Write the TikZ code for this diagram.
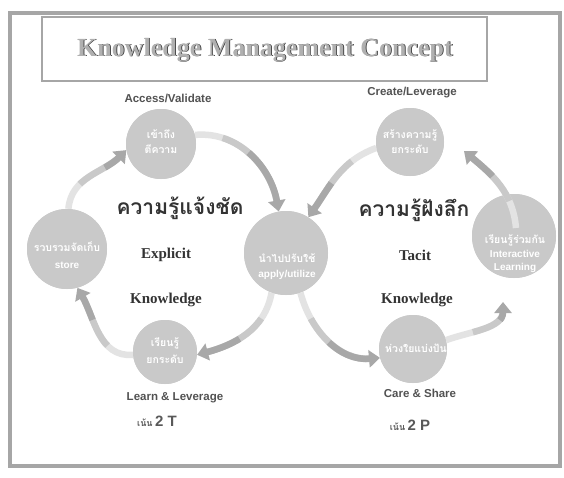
\documentclass[tikz,border=0pt]{standalone}
\usepackage{fontspec}
\setmainfont{Liberation Serif}
\newfontfamily\sansf{Liberation Sans}
\newfontfamily\thaif[Script=Thai]{Loma}
\usetikzlibrary{arrows.meta}
\tikzset{
  kmcirc/.style={circle, fill=gray!42, draw=none, minimum size=#1, inner sep=0pt},
  ctext/.style={text=white, align=center, inner sep=0pt, font=\thaif\bfseries\fontsize{10.5}{13}\selectfont},
  csub/.style={text=white, font=\sansf\bfseries\fontsize{10}{12}\selectfont},
  steplabel/.style={text=black!68, inner sep=0pt, font=\sansf\bfseries\fontsize{11.5}{13}\selectfont},
  biglabel/.style={text=black!80, inner sep=0pt, font=\bfseries\fontsize{15}{17}\selectfont},
  thailabel/.style={text=black!80, inner sep=0pt, font=\thaif\bfseries\fontsize{21}{24}\selectfont},
  emph2/.style={text=black!65, inner sep=0pt},
  arrlight/.style={line width=6.5pt, draw=gray!22, shorten >=9pt},
  arrmid/.style={line width=6.5pt, draw=gray!42, shorten >=9pt, dash pattern=on 0pt off 28pt on 2000pt off 1pt},
  arrdark/.style={line width=6.5pt, draw=gray!68, dash pattern=on 0pt off 58pt on 2000pt off 1pt, -{Triangle[width=17pt,length=11pt]}},
}
\newcommand\karrow[1]{%
  \draw[arrlight] #1;
  \draw[arrmid] #1;
  \draw[arrdark] #1;}
\begin{document}
\begin{tikzpicture}[x=1pt,y=1pt]
\useasboundingbox (0,0) rectangle (564,-477);
\fill[white] (0,0) rectangle (564,-477);
% frames
\draw[line width=4pt, draw=gray!70] (10,-13) rectangle (560,-466);
\draw[line width=1.5pt, draw=gray!70] (42,-17) rectangle (487,-81);
\node[text=black!85, font=\bfseries\fontsize{26}{30}\selectfont] (titleshadow) at (265.7,-50.7) {Knowledge Management Concept};
\node[text=gray!62, font=\bfseries\fontsize{26}{30}\selectfont] (title) at (265,-50) {Knowledge Management Concept};

% circle positions
\coordinate (pA) at (161,-144);
\coordinate (pS) at (67,-249);
\coordinate (pP) at (286,-253);
\coordinate (pL) at (165,-352);
\coordinate (pC) at (410,-142);
\coordinate (pI) at (514,-236);
\coordinate (pH) at (413,-349);

\node[kmcirc=70pt] (access) at (pA) {};
\node[kmcirc=80pt] (store) at (pS) {};
\node[kmcirc=84pt] (apply) at (pP) {};
\node[kmcirc=64pt] (learn) at (pL) {};
\node[kmcirc=68pt] (create) at (pC) {};
\node[kmcirc=84pt] (inter) at (pI) {};
\node[kmcirc=68pt] (care) at (pH) {};

\coordinate (ci) at (503,-302);
\coordinate (cc) at (464,-151);
\coordinate (it) at (516,-228);

% arrows
\karrow{(store.88) to[out=85,in=225] (access.190)}
\karrow{(access.15) to[out=5,in=100] (apply.100)}
\karrow{(apply.250) to[out=260,in=15] (learn.-5)}
\karrow{(learn.185) to[out=185,in=-60] (store.-75)}
\karrow{(create.190) to[out=200,in=55] (apply.58)}
\karrow{(apply.-70) to[out=-75,in=185] (care.195)}
\karrow{(care.15) to[out=20,in=-90] (ci)}

% circles again, over the arrow tails
\node[kmcirc=70pt] (access2) at (pA) {};
\node[kmcirc=80pt] (store2) at (pS) {};
\node[kmcirc=84pt] (apply2) at (pP) {};
\node[kmcirc=64pt] (learn2) at (pL) {};
\node[kmcirc=68pt] (create2) at (pC) {};
\node[kmcirc=84pt] (inter2) at (pI) {};
\node[kmcirc=68pt] (care2) at (pH) {};

\karrow{(it) to[out=95,in=-40] (cc)}

% circle texts
\node[ctext] (accesst) at (161,-142) {เข้าถึง\\[2pt]ตีความ};
\node[ctext] (storet) at (67,-247) {รวบรวมจัดเก็บ};
\node[csub] (stores) at (67,-265) {store};
\node[ctext] (applyt) at (287,-258) {นำไปปรับใช้};
\node[csub] (applys) at (287,-275) {apply/utilize};
\node[ctext] (learnt) at (165,-351) {เรียนรู้\\[4pt]ยกระดับ};
\node[ctext] (createt) at (410,-142) {สร้างความรู้\\[2pt]ยกระดับ};
\node[ctext] (intert) at (515,-240) {เรียนรู้ร่วมกัน};
\node[csub, align=center, font=\sansf\bfseries\fontsize{10}{13}\selectfont] (inters) at (515,-261) {Interactive\\Learning};
\node[ctext] (caret) at (416,-348) {ห่วงใยแบ่งปัน};

% labels
\node[steplabel] (lAccess) at (168,-98) {Access/Validate};
\node[steplabel] (lCreate) at (412,-93) {Create/Leverage};
\node[steplabel] (lLearn) at (175,-398) {Learn \& Leverage};
\node[steplabel] (lCare) at (420,-393) {Care \& Share};
\node[emph2] (l2T) at (157,-421) {{\thaif\bfseries\fontsize{9}{10}\selectfont เน้น} {\sansf\bfseries\fontsize{15}{16}\selectfont 2 T}};
\node[emph2] (l2P) at (410,-425) {{\thaif\bfseries\fontsize{9}{10}\selectfont เน้น} {\sansf\bfseries\fontsize{15}{16}\selectfont 2 P}};

\node[thailabel] (explth) at (180,-208) {ความรู้แจ้งชัด};
\node[biglabel] (expl) at (166,-255) {Explicit};
\node[biglabel] (know1) at (166,-300) {Knowledge};
\node[thailabel] (tacth) at (414,-210) {ความรู้ฝังลึก};
\node[biglabel] (tac) at (415,-255) {Tacit};
\node[biglabel] (know2) at (417,-300) {Knowledge};
\end{tikzpicture}
\end{document}
